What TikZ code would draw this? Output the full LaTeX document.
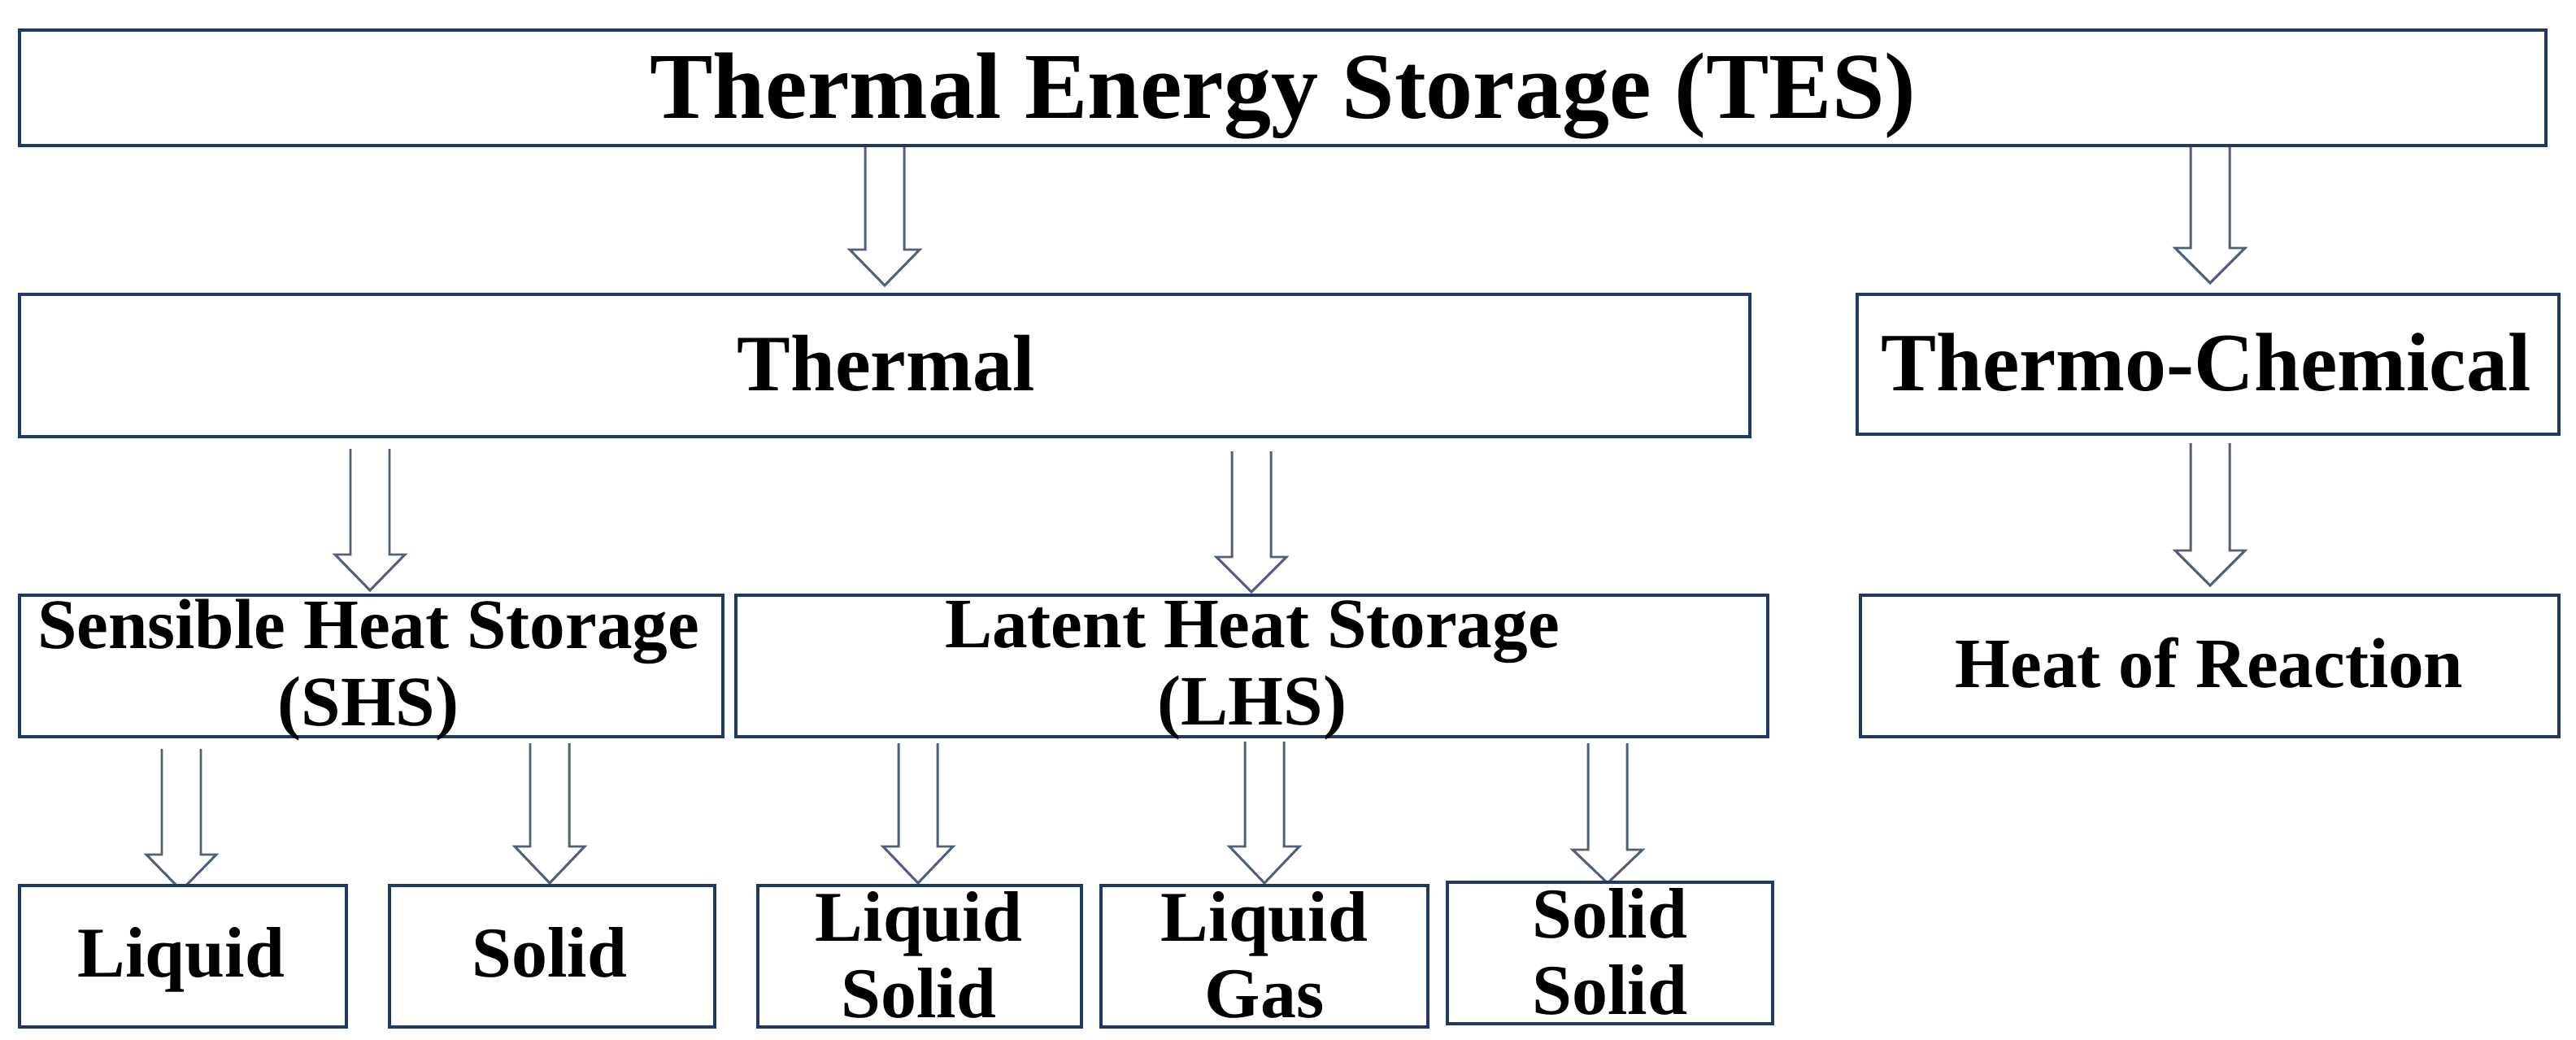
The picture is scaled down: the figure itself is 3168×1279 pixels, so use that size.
\documentclass[tikz,border=0pt]{standalone}
\usepackage{fontspec}
\setmainfont{Liberation Serif}
\definecolor{boxc}{HTML}{1F3864}
\definecolor{arrc}{HTML}{4F5F7C}
\tikzset{
  boxline/.style={draw=boxc,line width=1.15pt,fill=white},
  lbl/.style={align=center,inner sep=0pt,font=\bfseries\fontsize{25}{26.7}\selectfont},
  blk/.style={draw=arrc,line width=0.85pt,fill=white,line join=miter}
}
\newcommand{\blkarrow}[4]{% x, top, head, tip
  \draw[blk] (#1-24,#2) -- (#1-24,#3) -- (#1-43,#3) -- (#1,#4) -- (#1+43,#3) -- (#1+24,#3) -- (#1+24,#2);}
\begin{document}
\begin{tikzpicture}[x=0.01cm,y=-0.01cm]
\useasboundingbox (0,0) rectangle (3168,1279);
\fill[white] (0,0) rectangle (3168,1279);
% block arrows (drawn behind the boxes)
\blkarrow{1088}{179}{307}{351}
\blkarrow{2718}{174}{305}{348}
\blkarrow{455}{552}{682}{726}
\blkarrow{1539}{555}{685}{728}
\blkarrow{2718}{545}{677}{720}
\blkarrow{223}{921}{1051}{1095}
\blkarrow{676}{914}{1041}{1086}
\blkarrow{1129}{914}{1041}{1086}
\blkarrow{1555}{912}{1041}{1086}
\blkarrow{1977}{914}{1045}{1086}
% boxes
\draw[boxline] (24,37) rectangle (3131,179);
\node[lbl,anchor=base,font=\bfseries\fontsize{33}{36}\selectfont] (tes) at (1578,146) {Thermal Energy Storage (TES)};
\draw[boxline] (24,362) rectangle (2152,537);
\node[lbl,anchor=base,font=\bfseries\fontsize{28}{30}\selectfont] (th) at (1090,480) {Thermal};
\draw[boxline] (2284,362) rectangle (3147,534);
\node[lbl,anchor=base,font=\bfseries\fontsize{29}{30}\selectfont] (tc) at (2713,480) {Thermo-Chemical};
\draw[boxline] (24,732) rectangle (889,906);
\node[lbl,font=\bfseries\fontsize{24.8}{27}\selectfont] (shs) at (453,824) {Sensible Heat Storage\\(SHS)};
\draw[boxline] (905,732) rectangle (2174,906);
\node[lbl,font=\bfseries\fontsize{24.8}{27}\selectfont] (lhs) at (1540,824) {Latent Heat Storage\\(LHS)};
\draw[boxline] (2288,732) rectangle (3147,906);
\node[lbl,anchor=base,font=\bfseries\fontsize{24.8}{27}\selectfont] (hr) at (2717,845) {Heat of Reaction};
\draw[boxline] (24,1089) rectangle (426,1263);
\node[lbl,anchor=base] (l1) at (223,1201) {Liquid};
\draw[boxline] (479,1089) rectangle (879,1263);
\node[lbl,anchor=base] (s1) at (676,1201) {Solid};
\draw[boxline] (932,1089) rectangle (1330,1263);
\node[lbl] (ls) at (1130,1174) {Liquid\\Solid};
\draw[boxline] (1354,1089) rectangle (1756,1263);
\node[lbl] (lg) at (1555,1174) {Liquid\\Gas};
\draw[boxline] (1780,1085) rectangle (2180,1259);
\node[lbl] (ss) at (1980,1170) {Solid\\Solid};
\end{tikzpicture}
\end{document}
